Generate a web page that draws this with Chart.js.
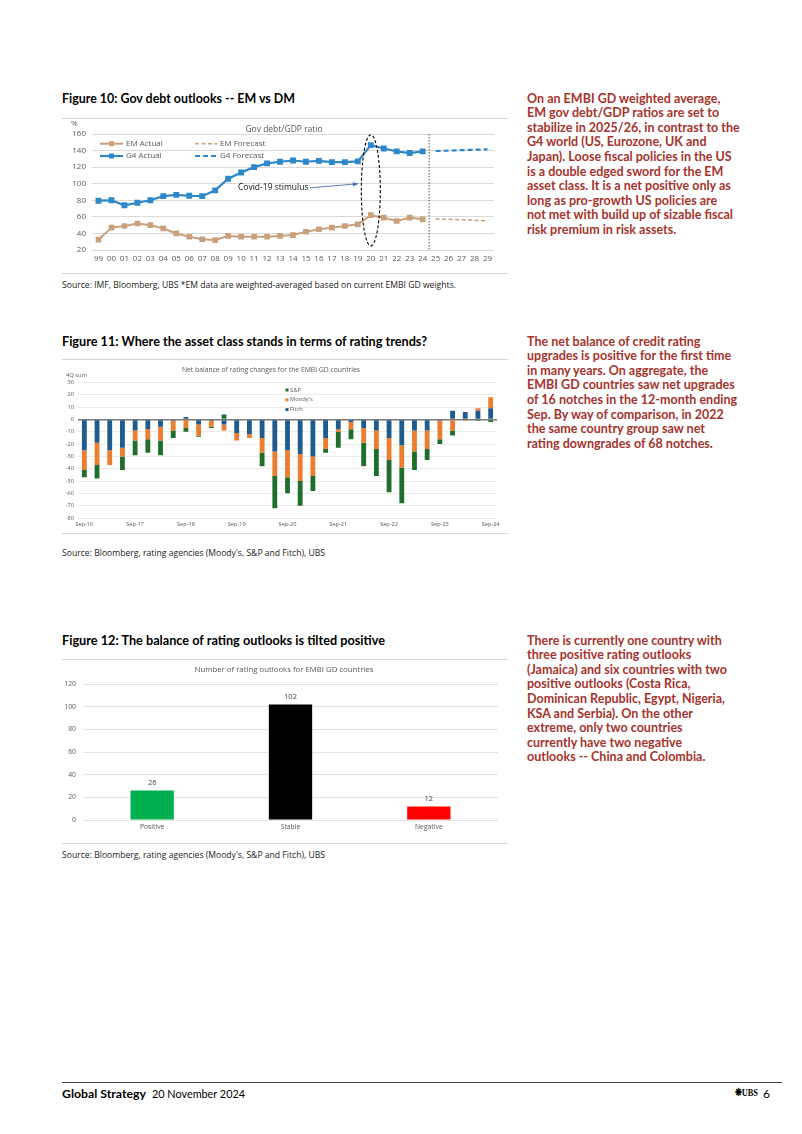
<!DOCTYPE html>
<html>
<head>
<meta charset="utf-8">
<script src="https://cdn.jsdelivr.net/npm/chart.js@4.4.1/dist/chart.umd.min.js"></script>
<style>
  body { margin:0; width:802px; height:1134px; position:relative; background:#fff; overflow:hidden; font-family:"Lato","Open Sans",sans-serif; }
  .abs { position:absolute; white-space:nowrap; transform-origin:0 0; }
  .ftitle { left:62px; font-weight:bold; font-size:12.5px; color:#000; line-height:15px; }
  .rule { position:absolute; left:62px; width:446px; height:1px; background:#d6d6d6; }
  .src { left:62px; font-size:9px; color:#222; line-height:11px; font-family:"Open Sans",sans-serif; }
  .note { left:527px; color:#a6332c; font-weight:bold; font-size:12.5px; line-height:14.6px; }
  canvas { position:absolute; left:62px; }
</style>
</head>
<body>

<div class="abs ftitle" id="t10" style="top:91px">Figure 10: Gov debt outlooks -- EM vs DM</div>
<div class="rule" style="top:118px"></div>
<canvas id="debtChart" width="448" height="155" style="top:118px"></canvas>
<div class="rule" style="top:273px"></div>
<div class="abs src" id="s10" style="top:279px">Source: IMF, Bloomberg, UBS *EM data are weighted-averaged based on current EMBI GD weights.</div>

<div class="abs ftitle" id="t11" style="top:334px">Figure 11: Where the asset class stands in terms of rating trends?</div>
<div class="rule" style="top:359px"></div>
<canvas id="ratingChart" width="448" height="172" style="top:360px"></canvas>
<div class="rule" style="top:533px"></div>
<div class="abs src" id="s11" style="top:547px">Source: Bloomberg, rating agencies (Moody's, S&amp;P and Fitch), UBS</div>

<div class="abs ftitle" id="t12" style="top:633px">Figure 12: The balance of rating outlooks is tilted positive</div>
<div class="rule" style="top:659px"></div>
<canvas id="outlookChart" width="448" height="180" style="top:660px"></canvas>
<div class="rule" style="top:843px"></div>
<div class="abs src" id="s12" style="top:849px">Source: Bloomberg, rating agencies (Moody's, S&amp;P and Fitch), UBS</div>

<div class="abs note" id="n1" style="top:91.7px">On an EMBI GD weighted average,<br>EM gov debt/GDP ratios are set to<br><span id="refLine">stabilize in 2025/26, in contrast to the</span><br>G4 world (US, Eurozone, UK and<br>Japan). Loose fiscal policies in the US<br>is a double edged sword for the EM<br>asset class. It is a net positive only as<br>long as pro-growth US policies are<br>not met with build up of sizable fiscal<br>risk premium in risk assets.</div>

<div class="abs note" id="n2" style="top:334.7px">The net balance of credit rating<br>upgrades is positive for the first time<br>in many years. On aggregate, the<br>EMBI GD countries saw net upgrades<br>of 16 notches in the 12-month ending<br>Sep. By way of comparison, in 2022<br>the same country group saw net<br>rating downgrades of 68 notches.</div>

<div class="abs note" id="n3" style="top:633.7px">There is currently one country with<br>three positive rating outlooks<br>(Jamaica) and six countries with two<br>positive outlooks (Costa Rica,<br>Dominican Republic, Egypt, Nigeria,<br>KSA and Serbia). On the other<br>extreme, only two countries<br>currently have two negative<br>outlooks -- China and Colombia.</div>

<div style="position:absolute;left:62px;top:1082px;width:720px;height:1px;background:#444"></div>
<div class="abs" id="f1" style="left:62px;top:1086px;font-size:12px;font-weight:bold;color:#000">Global Strategy</div>
<div class="abs" id="f2" style="left:152px;top:1086px;font-size:12px;color:#000">20 November 2024</div>
<div class="abs" id="logo" style="left:735px;top:1086px;font-size:11px;color:#000;font-family:'Liberation Serif',serif;font-weight:bold">&#10059;UBS</div>
<div class="abs" style="left:763px;top:1086px;font-size:12px;color:#000">6</div>

<script>
// ---- Figure 10 data: gov debt / GDP (%)
var years = ['99','00','01','02','03','04','05','06','07','08','09','10','11','12','13','14','15',
             '16','17','18','19','20','21','22','23','24','25','26','27','28','29'];
var emActual = [32.5,47,49,52,50,46,40,36,33,32,37,36,36,36,37,38,42,45,47,49,51,62,59,55,59,57];
var g4Actual = [79.5,80,74,77,80,85,86.5,85.5,85,92,106,113.5,120,124.5,126.5,128,126.5,127.5,126,126,127,146.5,142.5,139,137,139];
var emForecast = [57.5,57,56.5,56,55];
var g4Forecast = [139.5,140,140.5,141,141.5];

// ---- Figure 11 data: 4Q sum of rating changes, Sep-16 .. Sep-24
var quarters = ['Sep-16','Dec-16','Mar-17','Jun-17','Sep-17','Dec-17','Mar-18','Jun-18','Sep-18','Dec-18',
                'Mar-19','Jun-19','Sep-19','Dec-19','Mar-20','Jun-20','Sep-20','Dec-20','Mar-21','Jun-21',
                'Sep-21','Dec-21','Mar-22','Jun-22','Sep-22','Dec-22','Mar-23','Jun-23','Sep-23','Dec-23',
                'Mar-24','Jun-24','Sep-24'];
var fitch  = [-25,-19,-25,-23,-9,-8,-6,-1,2,-4,-1,-4,-11,-12,-15,-26,-25,-28,-30,-15,-8,-2,-7,-9,-15,-21,-9,-9,-1,7,6,7,9];
var moodys = [-16,-18,-12,-7,-8,-8,-11,-8,-7,-9,-5,-5,-6,-3,-12,-20,-22,-22,-16,-9,-2,-6,-12,-15,-18,-18,-17,-15,-15,-9,-1,2,9];
var sp     = [-6,-11,0,-11,-12,-11,-12,-6,-3,-1,-1,4,0,0,-11,-26,-13,-20,-12,-3,-13,-8,-19,-22,-26,-29,-15,-9,-4,-4,0,-1,-2];

// ---- Figure 12 data: number of rating outlooks
var outlookCats = ['Positive','Stable','Negative'];
var outlookCounts = [26,102,12];

Chart.defaults.font.family = '"Open Sans", sans-serif';
Chart.defaults.color = '#595959';
Chart.defaults.animation = false;

var EM_COL = '#c9a07c', G4_COL = '#2e87c8';

function pad(arr, before, after) {
  return Array(before).fill(null).concat(arr, Array(after).fill(null));
}

function legendLine(ctx, x0, x1, y, col, w, dash, marker, label) {
  ctx.save();
  ctx.strokeStyle = col; ctx.lineWidth = w; ctx.setLineDash(dash);
  ctx.beginPath(); ctx.moveTo(x0, y); ctx.lineTo(x1, y); ctx.stroke();
  if (marker) { ctx.fillStyle = col; ctx.fillRect((x0+x1)/2 - 2.5, y - 2.5, 5, 5); }
  ctx.setLineDash([]);
  ctx.fillStyle = '#595959'; ctx.font = '8px "Open Sans"'; ctx.textAlign = 'left'; ctx.textBaseline = 'middle';
  ctx.fillText(label, x1 + 3, y);
  ctx.restore();
}

var debtDecor = {
  id: 'debtDecor',
  afterDraw: function(chart) {
    var ctx = chart.ctx, x = chart.scales.x, y = chart.scales.y, a = chart.chartArea;
    ctx.save();
    ctx.fillStyle = '#595959'; ctx.textBaseline = 'middle';
    ctx.font = '8.5px "Open Sans"'; ctx.textAlign = 'center';
    ctx.fillText('Gov debt/GDP ratio', 222, 12);
    ctx.font = '8px "Open Sans"'; ctx.textAlign = 'left';
    ctx.fillText('%', 9, 6);

    legendLine(ctx, 38, 61, 25.7, EM_COL, 2, [], true, 'EM Actual');
    legendLine(ctx, 133, 155, 25.7, EM_COL, 1.5, [4,2.5], false, 'EM Forecast');
    legendLine(ctx, 38, 61, 38, G4_COL, 2.2, [], true, 'G4 Actual');
    legendLine(ctx, 133, 155, 38, G4_COL, 2.2, [5,3], false, 'G4 Forecast');

    // dotted divider between actual and forecast
    var xd = (x.getPixelForValue(years.indexOf('24')) + x.getPixelForValue(years.indexOf('25'))) / 2;
    ctx.strokeStyle = '#555'; ctx.lineWidth = 1; ctx.setLineDash([1.5, 1.5]);
    ctx.beginPath(); ctx.moveTo(xd, a.top); ctx.lineTo(xd, a.bottom); ctx.stroke();

    // ellipse around 2020
    var xe = x.getPixelForValue(years.indexOf('20'));
    var yt = y.getPixelForValue(159), yb = y.getPixelForValue(25);
    ctx.strokeStyle = '#000'; ctx.lineWidth = 1.1; ctx.setLineDash([3, 2]);
    ctx.beginPath(); ctx.ellipse(xe, (yt + yb) / 2, 9.5, (yb - yt) / 2, 0, 0, Math.PI * 2); ctx.stroke();
    ctx.setLineDash([]);

    // covid annotation + arrow
    var ty = y.getPixelForValue(95);
    ctx.fillStyle = '#111'; ctx.font = '8.5px "Open Sans"'; ctx.textAlign = 'left';
    ctx.fillText('Covid-19 stimulus', 176, ty);
    var ax0 = 248, ay0 = ty, ax1 = xe - 14, ay1 = ty - 4;
    ctx.strokeStyle = '#4a6fae'; ctx.fillStyle = '#4a6fae'; ctx.lineWidth = 0.9;
    ctx.beginPath(); ctx.moveTo(ax0, ay0); ctx.lineTo(ax1, ay1); ctx.stroke();
    var ang = Math.atan2(ay1 - ay0, ax1 - ax0);
    ctx.beginPath();
    ctx.moveTo(ax1 + 2, ay1 + 2 * Math.sin(ang));
    ctx.lineTo(ax1 - 4 * Math.cos(ang) + 2 * Math.sin(ang), ay1 - 4 * Math.sin(ang) - 2 * Math.cos(ang));
    ctx.lineTo(ax1 - 4 * Math.cos(ang) - 2 * Math.sin(ang), ay1 - 4 * Math.sin(ang) + 2 * Math.cos(ang));
    ctx.closePath(); ctx.fill();
    ctx.restore();
  }
};

new Chart(document.getElementById('debtChart'), {
  type: 'line',
  data: {
    labels: years,
    datasets: [
      { label: 'EM Actual', data: pad(emActual, 0, emForecast.length), borderColor: EM_COL, backgroundColor: EM_COL,
        borderWidth: 2, pointStyle: 'rect', pointRadius: 2.6, tension: 0 },
      { label: 'EM Forecast', data: pad(emForecast, emActual.length, 0), borderColor: EM_COL,
        borderWidth: 1.5, borderDash: [4, 2.5], pointRadius: 0 },
      { label: 'G4 Actual', data: pad(g4Actual, 0, g4Forecast.length), borderColor: G4_COL, backgroundColor: G4_COL,
        borderWidth: 2.2, pointStyle: 'rect', pointRadius: 2.6, tension: 0 },
      { label: 'G4 Forecast', data: pad(g4Forecast, g4Actual.length, 0), borderColor: G4_COL,
        borderWidth: 2.2, borderDash: [5, 3], pointRadius: 0 }
    ]
  },
  options: {
    responsive: false,
    layout: { padding: { left: 0, right: 16, top: 16, bottom: 0 } },
    plugins: { legend: { display: false }, tooltip: { enabled: false } },
    scales: {
      x: { offset: true, grid: { display: false, drawTicks: false, tickLength: 0 }, border: { display: false },
           ticks: { font: { size: 8 }, maxRotation: 0, autoSkip: false, padding: 4 },
           afterFit: function(s) { s.height = 23; } },
      y: { min: 20, max: 160, grid: { color: '#d9d9d9', drawTicks: false }, border: { display: false },
           ticks: { stepSize: 20, font: { size: 8 }, padding: 6 },
           afterFit: function(s) { s.width = 30; } }
    }
  },
  plugins: [debtDecor]
});

// ---- Figure 11
var FITCH_COL = '#1f5b8c', MOODY_COL = '#ed7d31', SP_COL = '#1f6e2c';

var ratingDecor = {
  id: 'ratingDecor',
  afterDraw: function(chart) {
    var ctx = chart.ctx;
    ctx.save();
    ctx.fillStyle = '#595959'; ctx.textBaseline = 'middle';
    ctx.font = '6.8px "Open Sans"'; ctx.textAlign = 'center';
    ctx.fillText('Net balance of rating changes for the EMBI GD countries', 209, 10);
    ctx.font = '5.8px "Open Sans"'; ctx.textAlign = 'left';
    ctx.fillText('4Q sum', 4, 15);
    var items = [['S&P', SP_COL], ["Moody's", MOODY_COL], ['Fitch', FITCH_COL]];
    items.forEach(function(it, i) {
      var yy = 30 + i * 9.8;
      ctx.fillStyle = it[1]; ctx.fillRect(223.5, yy - 1.5, 3, 3);
      ctx.fillStyle = '#595959'; ctx.fillText(it[0], 228, yy);
    });
    ctx.restore();
  }
};

new Chart(document.getElementById('ratingChart'), {
  type: 'bar',
  data: {
    labels: quarters,
    datasets: [
      { label: 'Fitch', data: fitch, backgroundColor: FITCH_COL },
      { label: "Moody's", data: moodys, backgroundColor: MOODY_COL },
      { label: 'S&P', data: sp, backgroundColor: SP_COL }
    ]
  },
  options: {
    responsive: false,
    layout: { padding: { left: 0, right: 13, top: 22.5, bottom: 0 } },
    datasets: { bar: { barPercentage: 0.38, categoryPercentage: 1 } },
    plugins: { legend: { display: false }, tooltip: { enabled: false } },
    scales: {
      x: { stacked: true, grid: { display: false, drawTicks: false, tickLength: 0 }, border: { display: false },
           ticks: { font: { size: 5.6 }, maxRotation: 0, autoSkip: false, padding: 3,
                    callback: function(v, i) { return i % 4 === 0 ? quarters[i] : ''; } },
           afterFit: function(s) { s.height = 14; } },
      y: { stacked: true, min: -80, max: 30,
           grid: { drawTicks: false,
                   color: function(c) { return c.tick.value === 0 ? '#7a7a7a' : '#e6e6e6'; },
                   lineWidth: function(c) { return c.tick.value === 0 ? 1.5 : 0.8; } },
           border: { display: false },
           ticks: { stepSize: 10, font: { size: 5.6 }, padding: 4 },
           afterFit: function(s) { s.width = 16; } }
    }
  },
  plugins: [ratingDecor]
});

// ---- Figure 12
var outlookDecor = {
  id: 'outlookDecor',
  afterDraw: function(chart) {
    var ctx = chart.ctx;
    ctx.save();
    ctx.fillStyle = '#595959'; ctx.textBaseline = 'middle'; ctx.textAlign = 'center';
    ctx.font = '7.8px "Open Sans"';
    ctx.fillText('Number of rating outlooks for EMBI GD countries', 222, 10);
    ctx.fillStyle = '#404040'; ctx.font = '7.5px "Open Sans"';
    chart.getDatasetMeta(0).data.forEach(function(bar, i) {
      ctx.fillText(String(outlookCounts[i]), bar.x, bar.y - 7.5);
    });
    ctx.restore();
  }
};

new Chart(document.getElementById('outlookChart'), {
  type: 'bar',
  data: {
    labels: outlookCats,
    datasets: [{ data: outlookCounts, backgroundColor: ['#00b050', '#000000', '#ff0000'],
                 barPercentage: 0.313, categoryPercentage: 1 }]
  },
  options: {
    responsive: false,
    layout: { padding: { left: 0, right: 12, top: 24, bottom: 0 } },
    plugins: { legend: { display: false }, tooltip: { enabled: false } },
    scales: {
      x: { grid: { display: false, drawTicks: false, tickLength: 0 }, border: { display: false },
           ticks: { font: { size: 6.8 }, padding: 3 },
           afterFit: function(s) { s.height = 20; } },
      y: { min: 0, max: 120, grid: { color: '#e3e3e3', drawTicks: false }, border: { display: false },
           ticks: { stepSize: 20, font: { size: 6.8 }, padding: 7 },
           afterFit: function(s) { s.width = 21; } }
    }
  },
  plugins: [outlookDecor]
});

// ---- squeeze text to match the original typeface widths
function fitWidth(id, w) {
  var el = document.getElementById(id);
  var r = el.getBoundingClientRect().width;
  el.style.transform = 'scaleX(' + (w / r) + ')';
}
fitWidth('t10', 233); fitWidth('t11', 365); fitWidth('t12', 323);
fitWidth('s10', 394); fitWidth('s11', 263); fitWidth('s12', 263);
fitWidth('f1', 84); fitWidth('f2', 93); fitWidth('logo', 23);
var k = 212.7 / document.getElementById('refLine').getBoundingClientRect().width;
['n1', 'n2', 'n3'].forEach(function(id) {
  document.getElementById(id).style.transform = 'scaleX(' + k + ')';
});
</script>
</body>
</html>
